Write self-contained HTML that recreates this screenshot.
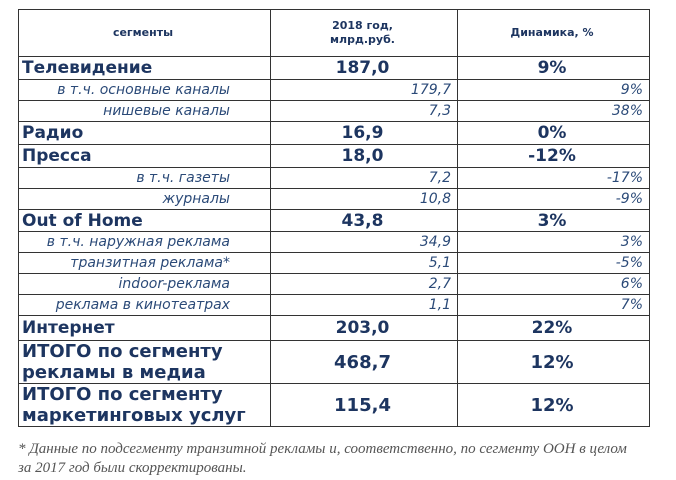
<!DOCTYPE html>
<html><head><meta charset="utf-8"><style>
body{margin:0;width:676px;height:480px;background:#fff;position:relative;overflow:hidden;font-family:"DejaVu Sans","Liberation Sans",sans-serif;color:#1d3560}
table{position:absolute;left:18px;top:9px;border-collapse:collapse;width:631px;table-layout:fixed}
td{border:1px solid #333;padding:0 6px 0 3px;white-space:nowrap;overflow:hidden}
.h td{height:46px;font-size:11px;font-weight:bold;text-align:center;line-height:14px}
.b td{font-weight:bold;font-size:17px;height:21px;line-height:20px}
.b td+td{text-align:center}
.s td{font-style:italic;font-size:14px;height:20px;line-height:18px;text-align:right;color:#2b4a78}
.s td:first-child{padding-right:40px}
.t td{font-weight:bold;font-size:18px;height:42px;line-height:21px}
.t td+td{text-align:center}
.note{position:absolute;left:18px;top:440px;font-family:"Liberation Serif",serif;font-style:italic;font-size:15px;color:#555;line-height:19px;white-space:nowrap}
</style></head><body>
<table>
<colgroup><col style="width:252px"><col style="width:187px"><col style="width:192px"></colgroup>
<tr class="h"><td>сегменты</td><td>2018 год,<br>млрд.руб.</td><td>Динамика, %</td></tr>
<tr class="b"><td style="height:22px">Телевидение</td><td>187,0</td><td>9%</td></tr>
<tr class="s"><td>в т.ч. основные каналы</td><td>179,7</td><td>9%</td></tr>
<tr class="s"><td>нишевые каналы</td><td>7,3</td><td>38%</td></tr>
<tr class="b"><td style="height:22px">Радио</td><td>16,9</td><td>0%</td></tr>
<tr class="b"><td style="height:22px">Пресса</td><td>18,0</td><td>-12%</td></tr>
<tr class="s"><td>в т.ч. газеты</td><td>7,2</td><td>-17%</td></tr>
<tr class="s"><td>журналы</td><td>10,8</td><td>-9%</td></tr>
<tr class="b"><td>Out of Home</td><td>43,8</td><td>3%</td></tr>
<tr class="s"><td>в т.ч. наружная реклама</td><td>34,9</td><td>3%</td></tr>
<tr class="s"><td>транзитная реклама*</td><td>5,1</td><td>-5%</td></tr>
<tr class="s"><td>indoor-реклама</td><td>2,7</td><td>6%</td></tr>
<tr class="s"><td>реклама в кинотеатрах</td><td>1,1</td><td>7%</td></tr>
<tr class="b"><td style="height:24px">Интернет</td><td>203,0</td><td>22%</td></tr>
<tr class="t"><td>ИТОГО по сегменту<br>рекламы в медиа</td><td>468,7</td><td>12%</td></tr>
<tr class="t"><td>ИТОГО по сегменту<br>маркетинговых услуг</td><td>115,4</td><td>12%</td></tr>
</table>
<div class="note">* Данные по подсегменту транзитной рекламы и, соответственно, по сегменту ООН в целом<br>за 2017 год были скорректированы.</div>
</body></html>
